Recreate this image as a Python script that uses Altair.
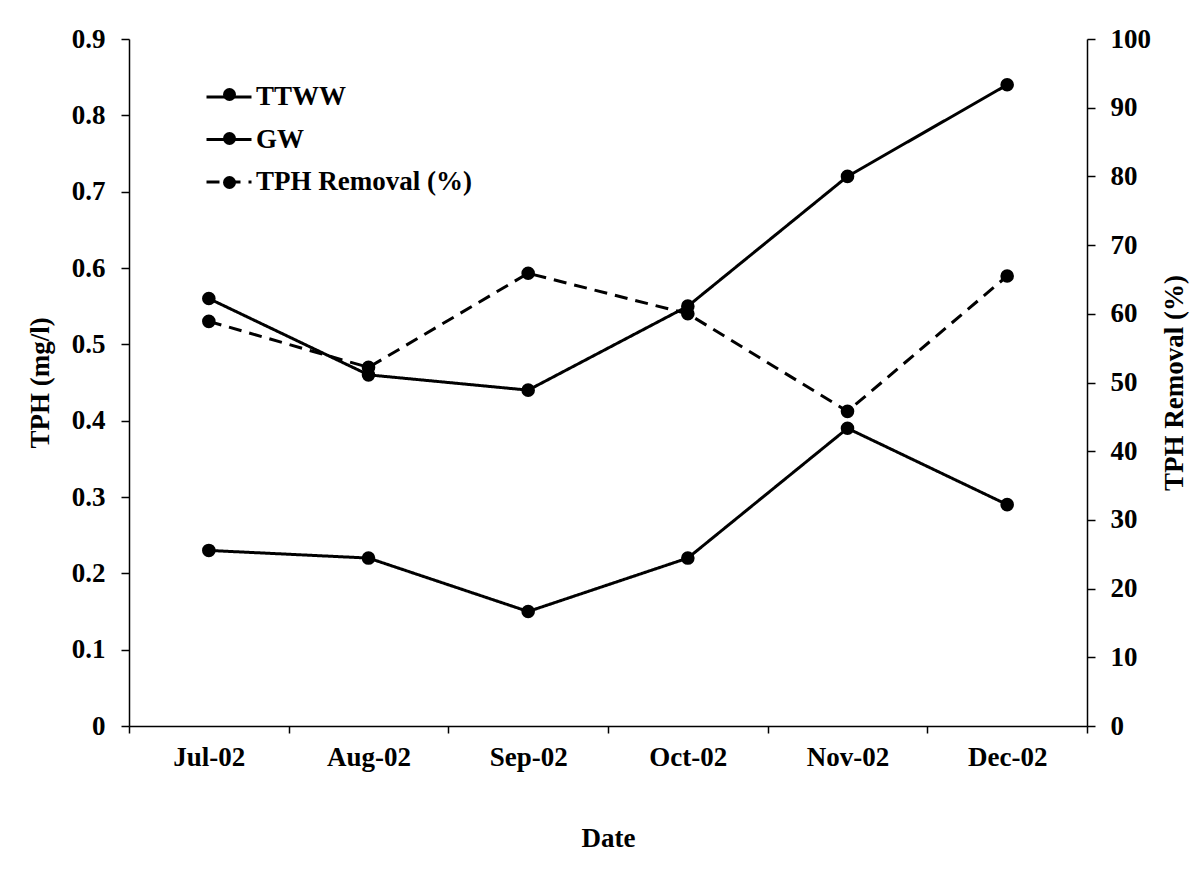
import altair as alt
import pandas as pd

months = ["Jul-02", "Aug-02", "Sep-02", "Oct-02", "Nov-02", "Dec-02"]
ttww = [0.56, 0.46, 0.44, 0.55, 0.72, 0.84]
gw = [0.23, 0.22, 0.15, 0.22, 0.39, 0.29]
removal = [58.9, 52.2, 65.9, 60.0, 45.8, 65.5]
series_names = ["TTWW", "GW", "TPH Removal (%)"]
marker_names = ["TTWW marker", "GW marker", "TPH Removal (%) marker"]
left_ticks = [0, 0.1, 0.2, 0.3, 0.4, 0.5, 0.6, 0.7, 0.8, 0.9]
right_ticks = [0, 10, 20, 30, 40, 50, 60, 70, 80, 90, 100]

FONT = "Liberation Serif"
FS = 27

conc_rows = []
for name, mk, vals in (("TTWW", marker_names[0], ttww), ("GW", marker_names[1], gw)):
    for m, v in zip(months, vals):
        conc_rows.append({"month": m, "series": name, "marker": mk, "conc": v})
df_conc = pd.DataFrame(conc_rows)
df_rem = pd.DataFrame({"month": months, "series": series_names[2],
                       "marker": marker_names[2], "pct": removal})

x_enc = alt.X(
    "month:N", sort=months, bandPosition=0.5,
    scale=alt.Scale(type="band", paddingInner=0, paddingOuter=0),
    axis=alt.Axis(title="Date", tickBand="extent", labelAngle=0,
                  labelPadding=11, titlePadding=55, tickSize=7),
)

dash_scale = alt.Scale(domain=series_names, range=[[1, 0], [1, 0], [13, 8]])
shape_scale = alt.Scale(domain=marker_names, range=["circle", "circle", "circle"])

dash_legend = alt.Legend(
    title=None, orient="none", legendX=76, legendY=34, symbolType="stroke",
    symbolSize=2025, symbolStrokeWidth=3, symbolStrokeColor="black",
    labelFont=FONT, labelFontSize=FS, labelFontWeight="bold", labelColor="black",
    labelLimit=500, rowPadding=5.5, labelOffset=3, padding=0,
)
shape_legend = alt.Legend(
    title=None, orient="none", legendX=87, legendY=42, symbolType="circle",
    symbolSize=169, symbolFillColor="black", symbolStrokeColor="black",
    symbolStrokeWidth=0, labelFont=FONT, labelFontSize=FS, labelFontWeight="bold",
    labelOpacity=0, labelLimit=500, rowPadding=16, labelOffset=7, padding=0,
)

dash_enc = alt.StrokeDash("series:N", scale=dash_scale, legend=dash_legend)
shape_enc = alt.Shape("marker:N", scale=shape_scale, legend=shape_legend)

y_left = alt.Y(
    "conc:Q", scale=alt.Scale(domain=[0, 0.9], nice=False, zero=True),
    axis=alt.Axis(title="TPH (mg/l)", values=left_ticks, format=".1~f",
                  orient="left", tickSize=8, labelPadding=16, titlePadding=17),
)
y_right = alt.Y(
    "pct:Q", scale=alt.Scale(domain=[0, 100], nice=False, zero=True),
    axis=alt.Axis(title="TPH Removal (%)", values=right_ticks, format="d",
                  orient="right", tickSize=8, labelPadding=15, titlePadding=38,
                  titleAngle=270),
)

conc_base = alt.Chart(df_conc)
conc_layer = alt.layer(
    conc_base.mark_line(strokeWidth=3, color="black").encode(
        x=x_enc, y=y_left, strokeDash=dash_enc, detail="series:N"),
    conc_base.mark_point(filled=True, size=185, color="black", opacity=1).encode(
        x=x_enc, y=y_left, shape=shape_enc),
)

rem_base = alt.Chart(df_rem)
rem_layer = alt.layer(
    rem_base.mark_line(strokeWidth=3, color="black").encode(
        x=x_enc, y=y_right, strokeDash=dash_enc),
    rem_base.mark_point(filled=True, size=185, color="black", opacity=1).encode(
        x=x_enc, y=y_right, shape=shape_enc),
)

chart = (
    alt.layer(conc_layer, rem_layer)
    .resolve_scale(y="independent")
    .properties(
        width=958, height=687,
        autosize=alt.AutoSizeParams(type="none"),
        padding={"left": 121, "top": 31, "right": 103, "bottom": 143},
        background="white",
    )
    .configure_view(stroke=None)
    .configure_axis(
        grid=False, domainColor="black", domainWidth=1.5, tickColor="black",
        tickWidth=1.5, labelFont=FONT, labelFontSize=FS, labelFontWeight="bold",
        labelColor="black", titleFont=FONT, titleFontSize=FS,
        titleFontWeight="bold", titleColor="black",
    )
)

chart.save("out.html", embed_options={"renderer": "svg", "actions": False})
